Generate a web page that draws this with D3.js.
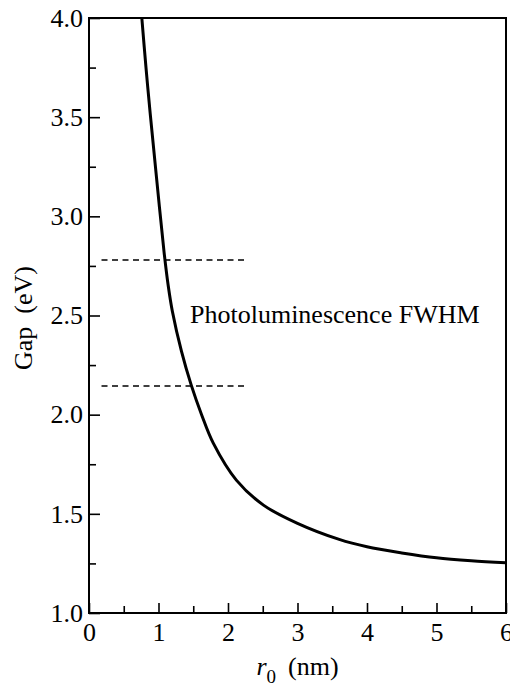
<!DOCTYPE html>
<html>
<head>
<meta charset="UTF-8">
<title>Gap vs r0</title>
<script src="https://d3js.org/d3.v7.min.js"></script>
<style>
body { margin: 0; background: #fff; }
</style>
</head>
<body>
<svg width="510" height="686" font-family="Liberation Serif, DejaVu Serif, serif"></svg>
<script>
// curve: r0 (nm) and gap (eV)
var radius = [0.76, 0.82, 0.88, 0.97, 1.08, 1.14, 1.2, 1.33, 1.47, 1.62, 1.79, 2.12, 2.51, 3.0, 3.6, 4.0, 4.5, 5.0, 5.5, 6.0];
var gap    = [4.0, 3.75, 3.52, 3.2, 2.82, 2.65, 2.52, 2.32, 2.15, 2.0, 1.855, 1.67, 1.544, 1.452, 1.371, 1.334, 1.303, 1.278, 1.263, 1.253];

// dashed FWHM lines
var fwhmLevels = [2.78, 2.145];
var fwhmSpan = [0.18, 2.28];

var xMajor = [0, 1, 2, 3, 4, 5, 6];
var xMinor = [0.5, 1.5, 2.5, 3.5, 4.5, 5.5];
var yMajor = [1.0, 1.5, 2.0, 2.5, 3.0, 3.5, 4.0];
var yMinor = [1.25, 1.75, 2.25, 2.75, 3.25, 3.75];

var serif = "Liberation Serif, DejaVu Serif, serif";

// plot box
var m = {left: 89, right: 506, top: 18, bottom: 613};

var x = d3.scaleLinear().domain([0, 6]).range([m.left, m.right]);
var y = d3.scaleLinear().domain([1, 4]).range([m.bottom, m.top]);

var svg = d3.select("svg");

svg.append("clipPath").attr("id", "plotclip")
  .append("rect")
    .attr("x", m.left).attr("y", m.top)
    .attr("width", m.right - m.left).attr("height", m.bottom - m.top);

// minor ticks
svg.append("g")
    .attr("transform", "translate(0," + m.bottom + ")")
    .call(d3.axisBottom(x).tickValues(xMinor).tickSize(-7).tickFormat(""))
    .call(function(g) { g.select(".domain").remove(); });
svg.append("g")
    .attr("transform", "translate(" + m.left + ",0)")
    .call(d3.axisLeft(y).tickValues(yMinor).tickSize(-7).tickFormat(""))
    .call(function(g) { g.select(".domain").remove(); });

// major ticks + labels
var xAxis = svg.append("g")
    .attr("transform", "translate(0," + m.bottom + ")")
    .call(d3.axisBottom(x).tickValues(xMajor).tickSize(-10).tickPadding(10).tickFormat(d3.format("d")));
xAxis.select(".domain").remove();

var yAxis = svg.append("g")
    .attr("transform", "translate(" + m.left + ",0)")
    .call(d3.axisLeft(y).tickValues(yMajor).tickSize(-11).tickPadding(6).tickFormat(d3.format(".1f")));
yAxis.select(".domain").remove();

svg.selectAll("g").attr("font-family", serif).attr("font-size", 26);
svg.selectAll(".tick line").attr("stroke", "#000").attr("stroke-width", 1.6);
svg.selectAll(".tick text").attr("fill", "#000");
xAxis.selectAll(".tick text").attr("dy", "0.71em");

// frame
svg.append("rect")
    .attr("x", m.left).attr("y", m.top)
    .attr("width", m.right - m.left).attr("height", m.bottom - m.top)
    .attr("fill", "none")
    .attr("stroke", "#000")
    .attr("stroke-width", 2);

// dashed lines
svg.selectAll(".fwhm")
    .data(fwhmLevels)
  .enter().append("line")
    .attr("class", "fwhm")
    .attr("x1", x(fwhmSpan[0]))
    .attr("x2", x(fwhmSpan[1]))
    .attr("y1", function(d) { return y(d); })
    .attr("y2", function(d) { return y(d); })
    .attr("stroke", "#000")
    .attr("stroke-width", 1.5)
    .attr("stroke-dasharray", "6,4.5");

// the curve
var pts = radius.map(function(r, i) { return [r, gap[i]]; });
var line = d3.line()
    .x(function(d) { return x(d[0]); })
    .y(function(d) { return y(d[1]); })
    .curve(d3.curveCatmullRom.alpha(0.5));

svg.append("path")
    .datum(pts)
    .attr("clip-path", "url(#plotclip)")
    .attr("d", line)
    .attr("fill", "none")
    .attr("stroke", "#000")
    .attr("stroke-width", 3);

// annotation
svg.append("text")
    .attr("x", 190)
    .attr("y", 323)
    .attr("font-family", serif)
    .attr("font-size", 26)
    .text("Photoluminescence FWHM");

// axis titles
var xt = svg.append("text")
    .attr("x", (m.left + m.right) / 2)
    .attr("y", 675)
    .attr("text-anchor", "middle")
    .attr("font-family", serif)
    .attr("font-size", 26);
xt.append("tspan").attr("font-style", "italic").text("r");
xt.append("tspan").attr("dy", 8).attr("font-size", 19).text("0");
xt.append("tspan").attr("dy", -8).attr("dx", 12).text("(nm)");

var yt = svg.append("text")
    .attr("transform", "translate(32,318) rotate(-90)")
    .attr("text-anchor", "middle")
    .attr("font-family", serif)
    .attr("font-size", 26);
yt.append("tspan").text("Gap");
yt.append("tspan").attr("dx", 13).text("(eV)");
</script>
</body>
</html>
